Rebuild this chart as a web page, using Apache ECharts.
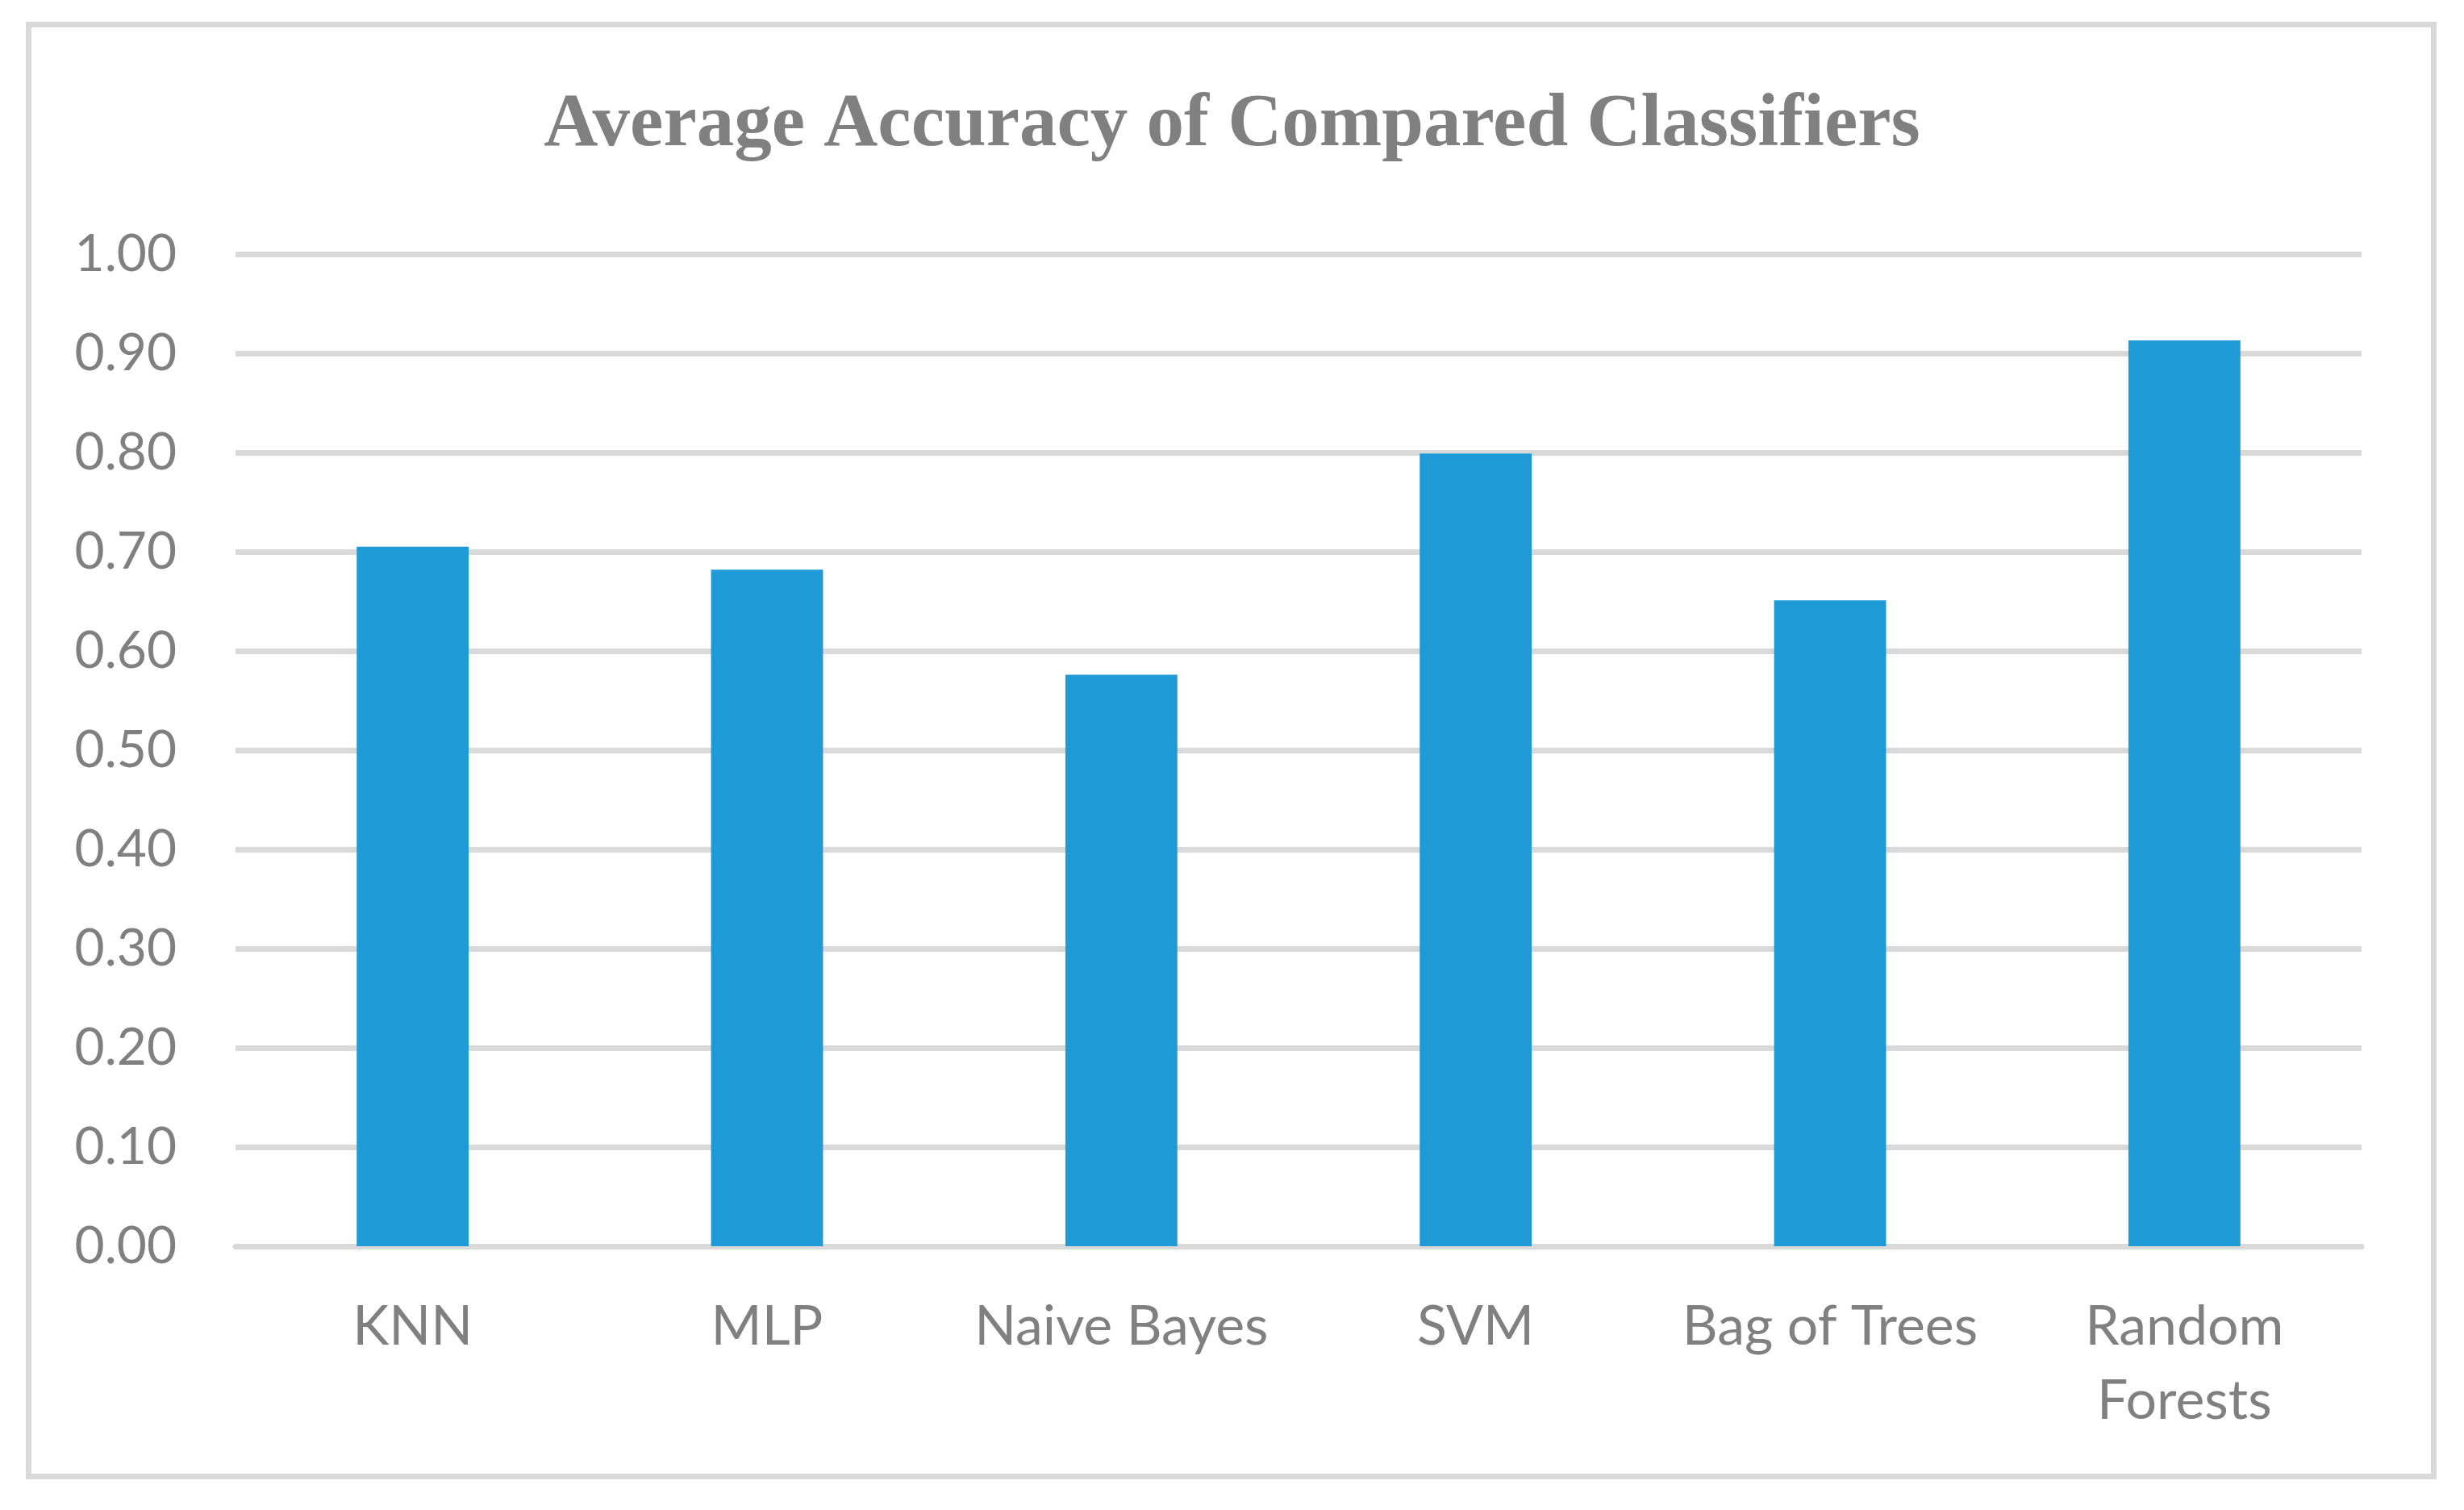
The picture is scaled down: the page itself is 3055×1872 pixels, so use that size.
<!DOCTYPE html>
<html>
<head>
<meta charset="utf-8">
<script src="https://cdn.jsdelivr.net/npm/echarts@6/dist/echarts.min.js"></script>
<style>
html,body{margin:0;padding:0;background:#fff;}
#chart{width:3055px;height:1872px;}
</style>
</head>
<body>
<div id="chart"></div>
<script>
const titleText = 'Average Accuracy of Compared Classifiers';
const categories = ['KNN', 'MLP', 'Naive Bayes', 'SVM', 'Bag of Trees', 'Random Forests'];
const accuracy = [0.705, 0.682, 0.576, 0.799, 0.651, 0.913];
const yTicks = { min: 0, max: 1, interval: 0.1 };

const chart = echarts.init(document.getElementById('chart'), null, { renderer: 'canvas' });
const gray = '#808080';
const gridGray = '#D9D9D9';
chart.setOption({
  backgroundColor: '#ffffff',
  animation: false,
  title: {
    text: titleText,
    left: 'center',
    top: 104,
    textStyle: {
      fontFamily: 'Liberation Serif',
      fontWeight: 'bold',
      fontSize: 93,
      color: gray
    }
  },
  graphic: [{
    type: 'rect',
    shape: { x: 35.5, y: 30.5, width: 2982, height: 1800 },
    style: { fill: 'none', stroke: gridGray, lineWidth: 7 },
    silent: true
  }],
  grid: { left: 292, right: 127, top: 315, bottom: 327, containLabel: false },
  xAxis: {
    type: 'category',
    data: categories,
    axisLine: { show: true, lineStyle: { color: gridGray, width: 7 } },
    axisTick: { show: false },
    axisLabel: {
      interval: 0,
      color: gray,
      fontFamily: 'Lato',
      fontSize: 68,
      lineHeight: 92,
      margin: 54,
      formatter: v => v.replace('Random Forests', 'Random\nForests')
    }
  },
  yAxis: {
    type: 'value',
    min: yTicks.min,
    max: yTicks.max,
    interval: yTicks.interval,
    axisLine: { show: false },
    axisTick: { show: false },
    splitLine: { show: true, lineStyle: { color: gridGray, width: 7 } },
    axisLabel: {
      color: gray,
      fontFamily: 'Lato',
      fontSize: 64,
      margin: 73,
      formatter: v => v.toFixed(2)
    }
  },
  series: [{
    type: 'bar',
    data: accuracy,
    barWidth: '31.6%',
    itemStyle: { color: '#1E9BD7' }
  }]
});
</script>
</body>
</html>
